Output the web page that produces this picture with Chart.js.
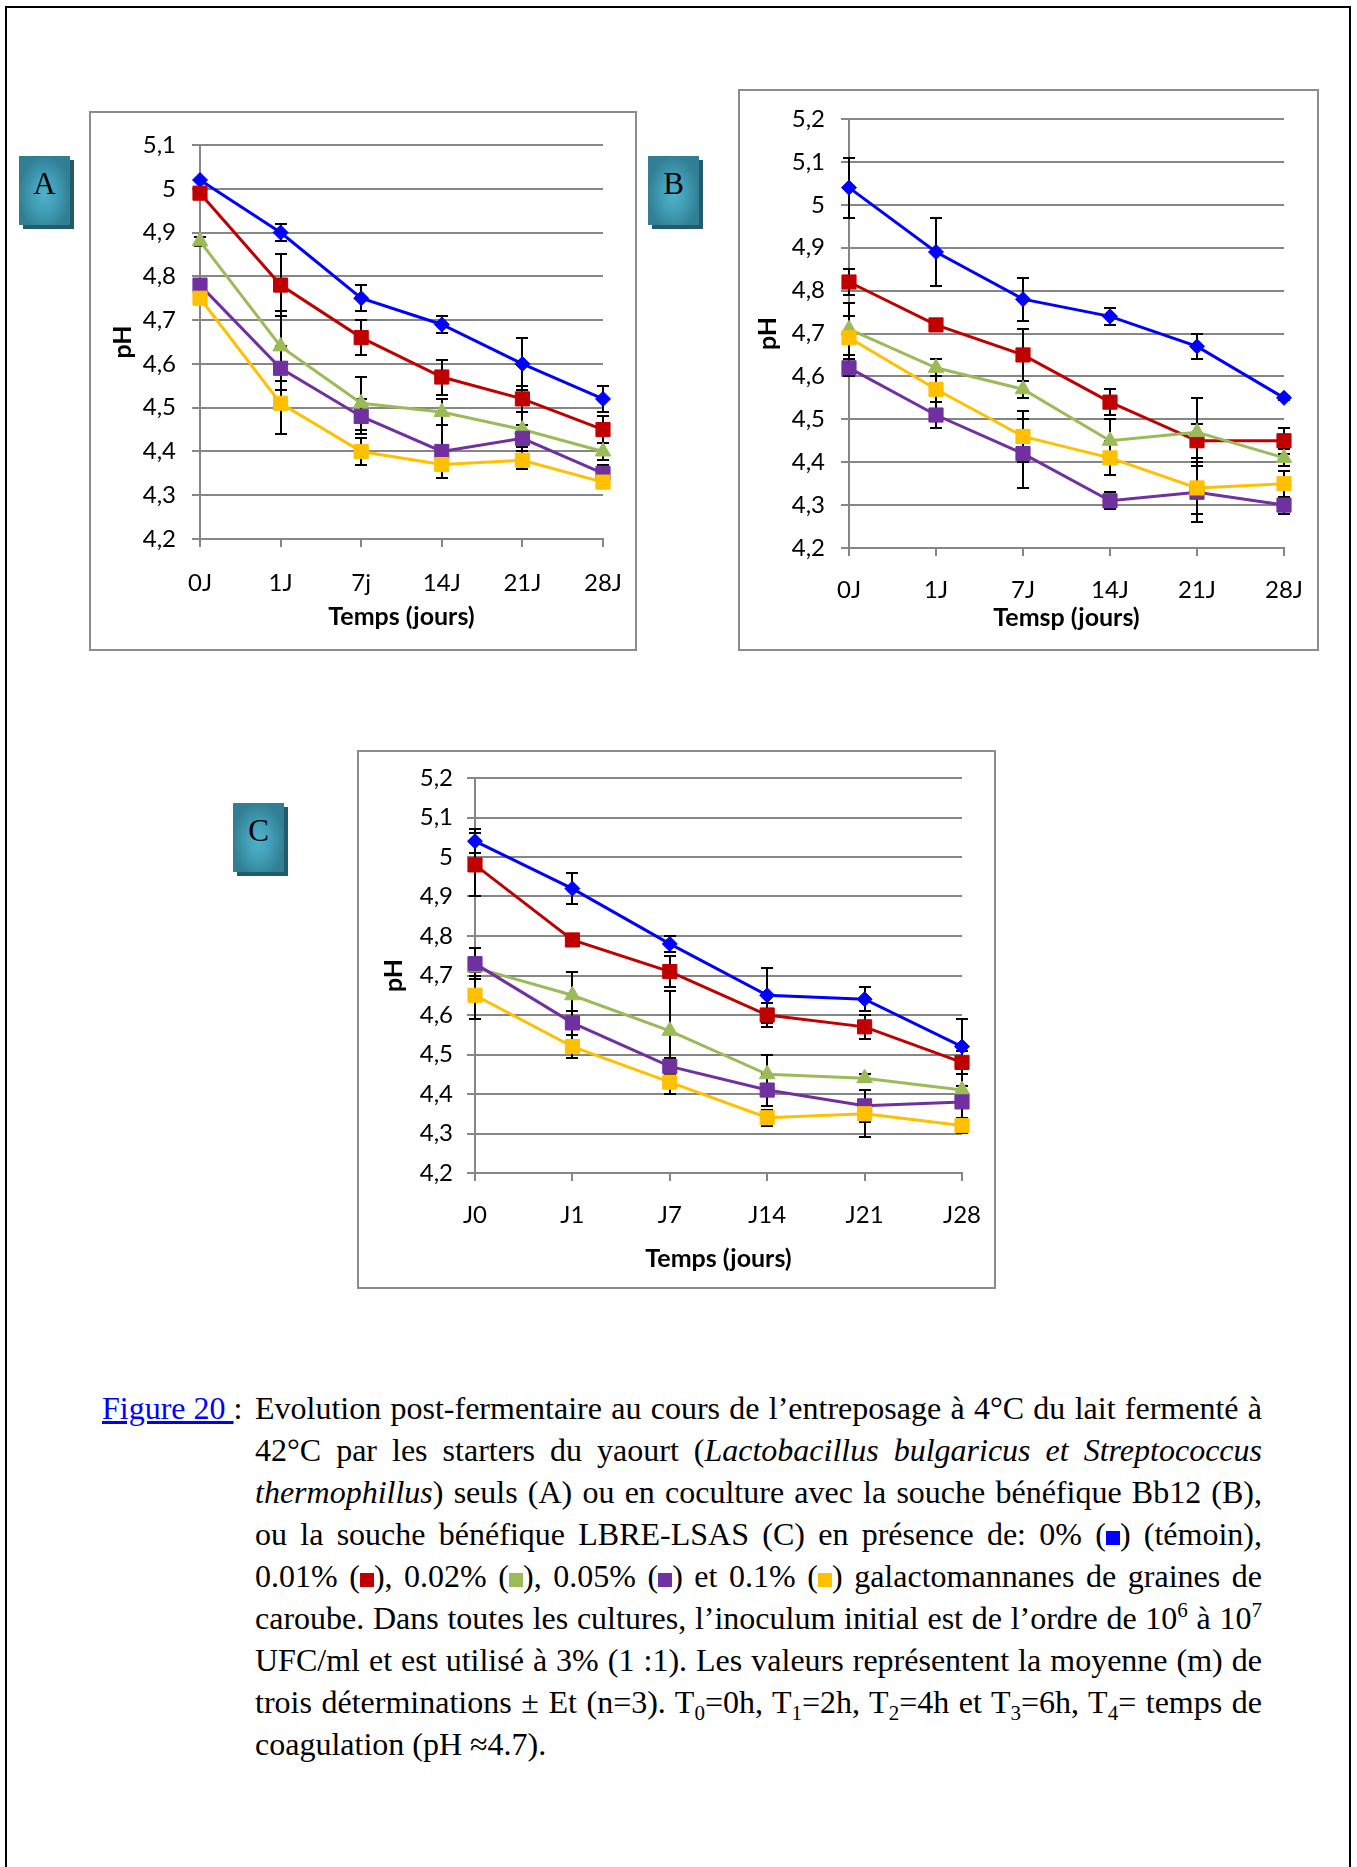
<!DOCTYPE html>
<html>
<head>
<meta charset="utf-8">
<script src="https://cdn.jsdelivr.net/npm/chart.js@4.4.0/dist/chart.umd.min.js"></script>
<style>
body { margin: 0; background: #fff; }
#page { position: absolute; left: 5px; top: 6px; width: 1342px; height: 1900px;
        border: 2px solid #000; border-bottom: none; }
.box { position: absolute; border: 2px solid #8c8c8c; box-sizing: border-box; background: #fff; }
.box canvas { position: absolute; left: 0; top: 0; }
.tag { position: absolute; width: 51px; height: 69px; box-sizing: border-box;
       background: radial-gradient(ellipse farthest-side at 50% 55%, #4fb3cb 0%, #42a0b8 45%, #327f95 100%);
       box-shadow: 4px 4px 0 #245b6b; font-family: "Liberation Serif", serif; font-size: 31px;
       text-align: center; padding-top: 10px; color: #000; }
#caption { position: absolute; left: 255px; top: 1387px; width: 1007px;
           font-family: "Liberation Serif", "Times New Roman", serif; font-size: 32px; line-height: 42px; color: #000; }
#caption .ln { text-align: justify; text-align-last: justify; white-space: nowrap; }
#caption .ln.last { text-align: left; text-align-last: left; }
#fig { position: absolute; left: -153px; top: 0; }
#fig a { color: #0000ff; text-decoration: underline; }
.sq { display: inline-block; width: 14px; height: 14px; vertical-align: 0px; }
sup, sub { font-size: 21px; line-height: 0; }
</style>
</head>
<body>
<div id="page"></div>

<div class="tag" style="left:19px;top:156px;">A</div>
<div class="tag" style="left:648px;top:156px;">B</div>
<div class="tag" style="left:233px;top:803px;">C</div>

<div class="box" style="left:89px;top:111px;width:548px;height:540px;"><canvas id="chartA" width="544" height="536"></canvas></div>
<div class="box" style="left:738px;top:89px;width:581px;height:562px;"><canvas id="chartB" width="577" height="558"></canvas></div>
<div class="box" style="left:357px;top:750px;width:639px;height:539px;"><canvas id="chartC" width="635" height="535"></canvas></div>

<div id="caption">
  <div id="fig"><a>Figure 20 </a>:</div>
  <div class="ln">Evolution post-fermentaire au cours de l’entreposage à 4°C du lait fermenté à</div>
  <div class="ln">42°C par les starters du yaourt (<i>Lactobacillus bulgaricus et Streptococcus</i></div>
  <div class="ln"><i>thermophillus</i>) seuls (A) ou en coculture avec la souche bénéfique Bb12 (B),</div>
  <div class="ln">ou la souche bénéfique LBRE-LSAS (C) en présence de: 0% (<span class="sq" style="background:#0000ff"></span>) (témoin),</div>
  <div class="ln">0.01% (<span class="sq" style="background:#c00000"></span>), 0.02% (<span class="sq" style="background:#9bbb59"></span>), 0.05% (<span class="sq" style="background:#7030a0"></span>) et 0.1% (<span class="sq" style="background:#ffc000"></span>) galactomannanes de graines de</div>
  <div class="ln">caroube. Dans toutes les cultures, l’inoculum initial est de l’ordre de 10<sup>6</sup> à 10<sup>7</sup></div>
  <div class="ln">UFC/ml et est utilisé à 3% (1 :1). Les valeurs représentent la moyenne (m) de</div>
  <div class="ln">trois déterminations ± Et (n=3). T<sub>0</sub>=0h, T<sub>1</sub>=2h, T<sub>2</sub>=4h et T<sub>3</sub>=6h, T<sub>4</sub>= temps de</div>
  <div class="ln last">coagulation (pH ≈4.7).</div>
</div>

<script>
// jours de stockage
const daysA = ["0J", "1J", "7j", "14J", "21J", "28J"];
const daysB = ["0J", "1J", "7J", "14J", "21J", "28J"];
const daysC = ["J0", "J1", "J7", "J14", "J21", "J28"];
const doses = ["0%", "0.01%", "0.02%", "0.05%", "0.1%"];

// A : starters seuls
const aBlue   = [5.02, 4.90, 4.75, 4.69, 4.60, 4.52];
const aRed    = [4.99, 4.78, 4.66, 4.57, 4.52, 4.45];
const aGreen  = [4.88, 4.64, 4.51, 4.49, 4.45, 4.40];
const aPurple = [4.78, 4.59, 4.48, 4.40, 4.43, 4.35];
const aYellow = [4.75, 4.51, 4.40, 4.37, 4.38, 4.33];
const aBlueEt   = [0, 0.02, 0.03, 0.02, 0.06, 0.03];
const aRedEt    = [0, 0.07, 0.04, 0.04, 0.03, 0.03];
const aGreenEt  = [0.01, 0.08, 0.06, 0.03, 0.04, 0.02];
const aPurpleEt = [0, 0.05, 0.04, 0.06, 0.03, 0.02];
const aYellowEt = [0, 0.07, 0.03, 0.03, 0.02, 0.01];

// B : coculture Bb12
const bBlue   = [5.04, 4.89, 4.78, 4.74, 4.67, 4.55];
const bRed    = [4.82, 4.72, 4.65, 4.54, 4.45, 4.45];
const bGreen  = [4.71, 4.62, 4.57, 4.45, 4.47, 4.41];
const bPurple = [4.62, 4.51, 4.42, 4.31, 4.33, 4.30];
const bYellow = [4.69, 4.57, 4.46, 4.41, 4.34, 4.35];
const bBlueEt   = [0.07, 0.08, 0.05, 0.02, 0.03, 0.005];
const bRedEt    = [0.03, 0, 0.06, 0.03, 0.04, 0.03];
const bGreenEt  = [0.06, 0.02, 0.02, 0.05, 0.08, 0.02];
const bPurpleEt = [0.02, 0.03, 0.08, 0.02, 0.07, 0.02];
const bYellowEt = [0.05, 0.03, 0.06, 0.04, 0.06, 0.03];

// C : coculture LBRE-LSAS
const cBlue   = [5.04, 4.92, 4.78, 4.65, 4.64, 4.52];
const cRed    = [4.98, 4.79, 4.71, 4.60, 4.57, 4.48];
const cGreen  = [4.72, 4.65, 4.56, 4.45, 4.44, 4.41];
const cPurple = [4.73, 4.58, 4.47, 4.41, 4.37, 4.38];
const cYellow = [4.65, 4.52, 4.43, 4.34, 4.35, 4.32];
const cBlueEt   = [0.03, 0.04, 0.02, 0.07, 0.03, 0.07];
const cRedEt    = [0.08, 0, 0.04, 0.03, 0.03, 0.03];
const cGreenEt  = [0.02, 0.06, 0.10, 0.05, 0.01, 0.04];
const cPurpleEt = [0.04, 0.03, 0.02, 0.04, 0.04, 0.04];
const cYellowEt = [0.06, 0.03, 0.03, 0.02, 0.06, 0.02];

const colors = ["#0000ff", "#c00000", "#9bbb59", "#7030a0", "#ffc000"];
const shapes = ["rectRot", "rect", "triangle", "rect", "rect"];
const radii = [7.5, 10, 9, 10, 10];

// barres d'erreur (± Et) dessinees sous les marqueurs
const errorBars = {
    id: "errorBars",
    beforeDatasetsDraw(chart) {
        const ctx = chart.ctx;
        const y = chart.scales.y;
        ctx.save();
        ctx.strokeStyle = "#000";
        ctx.lineWidth = 2;
        chart.data.datasets.forEach((d, i) => {
            const meta = chart.getDatasetMeta(i);
            meta.data.forEach((pt, j) => {
                const e = d.errorBars[j];
                if (!e) return;
                const top = Math.round(y.getPixelForValue(d.data[j] + e));
                const bot = Math.round(y.getPixelForValue(d.data[j] - e));
                const x = Math.round(pt.x);
                ctx.beginPath();
                ctx.moveTo(x, top); ctx.lineTo(x, bot);
                ctx.moveTo(x - 6, top); ctx.lineTo(x + 6, top);
                ctx.moveTo(x - 6, bot); ctx.lineTo(x + 6, bot);
                ctx.stroke();
            });
        });
        ctx.restore();
    }
};

function draw_chart(id, labels, series, errs, yMax, xTitle, g) {
    const datasets = series.map((vals, i) => ({
        label: doses[i],
        data: vals,
        errorBars: errs[i],
        borderColor: colors[i],
        backgroundColor: colors[i],
        borderWidth: 3,
        pointStyle: shapes[i],
        pointRadius: radii[i],
        pointBorderWidth: 1,
        tension: 0,
        order: 5 - i,
    }));
    new Chart(document.getElementById(id), {
        type: "line",
        data: { labels: labels, datasets: datasets },
        plugins: [errorBars],
        options: {
            responsive: false,
            animation: false,
            events: [],
            layout: { padding: { top: g.top, right: g.right, left: 0, bottom: 0 } },
            plugins: { legend: { display: false }, tooltip: { enabled: false } },
            scales: {
                x: {
                    offset: false,
                    afterFit: (s) => { s.height = g.xh; s.paddingLeft = 0; s.paddingRight = 0; },
                    grid: { drawOnChartArea: false, drawTicks: true, tickLength: 8, color: "#868686", lineWidth: 2 },
                    border: { color: "#868686", width: 2 },
                    ticks: { color: "#000", padding: g.xpad, maxRotation: 0, font: { family: "Lato", size: 24 } },
                    title: { display: true, text: xTitle, color: "#000",
                             padding: { top: 0, bottom: g.tpad },
                             font: { family: "Lato", size: 25, weight: "bold" } },
                },
                y: {
                    min: 4.2,
                    max: yMax,
                    afterFit: (s) => { s.width = g.yw; s.paddingTop = 0; s.paddingBottom = 0; },
                    grid: { drawTicks: true, tickLength: 8, color: "#868686", lineWidth: 2 },
                    border: { color: "#868686", width: 2 },
                    ticks: {
                        stepSize: 0.1,
                        color: "#000",
                        padding: g.ypad,
                        font: { family: "Lato", size: 24 },
                        callback: (v) => (Math.round(v * 10) / 10).toString().replace(".", ","),
                    },
                    title: { display: true, text: "pH", color: "#000",
                             padding: { top: g.ppad, bottom: 0 },
                             font: { family: "Lato", size: 25, weight: "bold" } },
                },
            },
        },
    });
}

draw_chart("chartA", daysA,
    [aBlue, aRed, aGreen, aPurple, aYellow],
    [aBlueEt, aRedEt, aGreenEt, aPurpleEt, aYellowEt],
    5.1, "Temps (jours)",
    { top: 32, right: 32, yw: 109, xh: 110, xpad: 22, tpad: 17, ppad: 17, ypad: 16 });

draw_chart("chartB", daysB,
    [bBlue, bRed, bGreen, bPurple, bYellow],
    [bBlueEt, bRedEt, bGreenEt, bPurpleEt, bYellowEt],
    5.2, "Temsp (jours)",
    { top: 28, right: 33, yw: 109, xh: 101, xpad: 20, tpad: 16, ppad: 13, ypad: 16 });

draw_chart("chartC", daysC,
    [cBlue, cRed, cGreen, cPurple, cYellow],
    [cBlueEt, cRedEt, cGreenEt, cPurpleEt, cYellowEt],
    5.2, "Temps (jours)",
    { top: 26, right: 32, yw: 116, xh: 114, xpad: 20, tpad: 13, ppad: 20, ypad: 14 });
</script>
</body>
</html>
